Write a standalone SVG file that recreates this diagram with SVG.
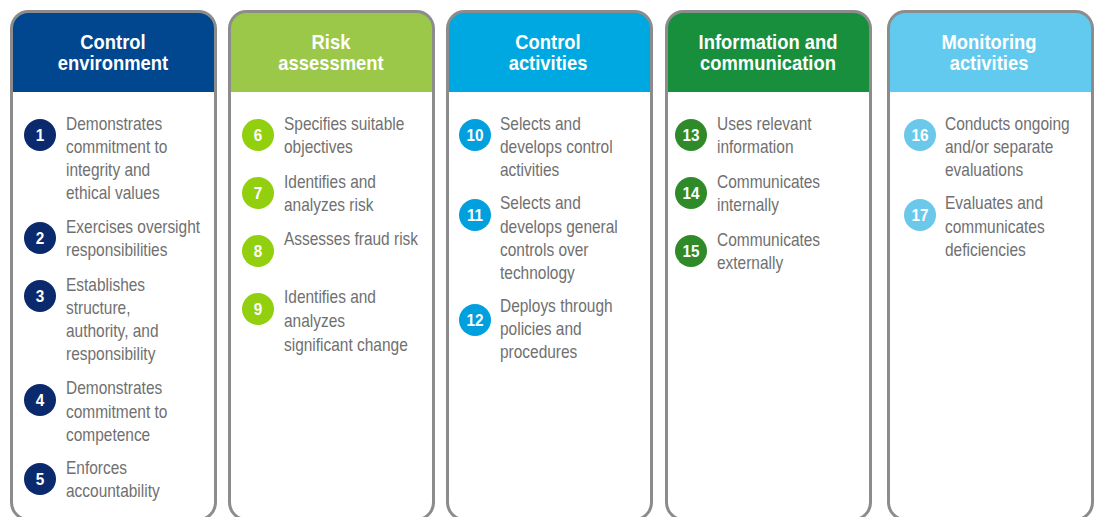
<svg xmlns="http://www.w3.org/2000/svg" width="1099" height="517" viewBox="0 0 1099 517">
<style>
.frame{fill:none;stroke:#8c8c8c;stroke-width:3}
.hd{font-family:"Liberation Sans",Arial,sans-serif;font-weight:bold;font-size:20px;fill:#ffffff;text-anchor:middle}
.tx{font-family:"Liberation Sans",Arial,sans-serif;font-size:18px;fill:#707070}
.num{font-family:"Liberation Sans",Arial,sans-serif;font-weight:bold;font-size:17px;fill:#ffffff;text-anchor:middle}
</style>
<rect width="1099" height="517" fill="#ffffff"/>
<g id="col1">
<path d="M11.5 92 V28 Q11.5 11.5 28 11.5 H199 Q215.5 11.5 215.5 28 V92 Z" fill="#00478f"/>
<rect class="frame" x="11.5" y="11.5" width="204" height="508" rx="17"/>
<text class="hd" transform="translate(113 0) scale(0.92 1)"><tspan x="0" y="49">Control</tspan><tspan x="0" y="70">environment</tspan></text>
<g fill="#0b2a6e">
<circle cx="40" cy="135" r="16"/><circle cx="40" cy="238" r="16"/><circle cx="40" cy="296" r="16"/><circle cx="40" cy="400" r="16"/><circle cx="40" cy="479" r="16"/>
</g>
<g class="num" transform="translate(40 0) scale(0.9 1)"><text x="0" y="141">1</text><text x="0" y="244">2</text><text x="0" y="302">3</text><text x="0" y="406">4</text><text x="0" y="485">5</text></g>
<g class="tx" transform="translate(66 0) scale(0.86 1)">
<text><tspan x="0" y="130">Demonstrates</tspan><tspan x="0" y="153">commitment to</tspan><tspan x="0" y="176">integrity and</tspan><tspan x="0" y="199">ethical values</tspan></text>
<text><tspan x="0" y="233">Exercises oversight</tspan><tspan x="0" y="256">responsibilities</tspan></text>
<text><tspan x="0" y="291">Establishes</tspan><tspan x="0" y="314">structure,</tspan><tspan x="0" y="337">authority, and</tspan><tspan x="0" y="360">responsibility</tspan></text>
<text><tspan x="0" y="394">Demonstrates</tspan><tspan x="0" y="418">commitment to</tspan><tspan x="0" y="441">competence</tspan></text>
<text><tspan x="0" y="474">Enforces</tspan><tspan x="0" y="497">accountability</tspan></text>
</g>
</g>
<g id="col2">
<path d="M229.5 92 V28 Q229.5 11.5 246 11.5 H417 Q433.5 11.5 433.5 28 V92 Z" fill="#9cc84a"/>
<rect class="frame" x="229.5" y="11.5" width="204" height="508" rx="17"/>
<text class="hd" transform="translate(331 0) scale(0.92 1)"><tspan x="0" y="49">Risk</tspan><tspan x="0" y="70">assessment</tspan></text>
<g fill="#92cf0f">
<circle cx="258" cy="135" r="16"/><circle cx="258" cy="193" r="16"/><circle cx="258" cy="251" r="16"/><circle cx="258" cy="309" r="16"/>
</g>
<g class="num" transform="translate(258 0) scale(0.9 1)"><text x="0" y="141">6</text><text x="0" y="199">7</text><text x="0" y="257">8</text><text x="0" y="315">9</text></g>
<g class="tx" transform="translate(284 0) scale(0.86 1)">
<text><tspan x="0" y="130">Specifies suitable</tspan><tspan x="0" y="153">objectives</tspan></text>
<text><tspan x="0" y="188">Identifies and</tspan><tspan x="0" y="211">analyzes risk</tspan></text>
<text><tspan x="0" y="245">Assesses fraud risk</tspan></text>
<text><tspan x="0" y="303">Identifies and</tspan><tspan x="0" y="327">analyzes</tspan><tspan x="0" y="351">significant change</tspan></text>
</g>
</g>
<g id="col3">
<path d="M447.5 92 V28 Q447.5 11.5 464 11.5 H635 Q651.5 11.5 651.5 28 V92 Z" fill="#00a8e1"/>
<rect class="frame" x="447.5" y="11.5" width="204" height="508" rx="17"/>
<text class="hd" transform="translate(548 0) scale(0.92 1)"><tspan x="0" y="49">Control</tspan><tspan x="0" y="70">activities</tspan></text>
<g fill="#00a0de">
<circle cx="475" cy="135" r="16"/><circle cx="475" cy="215" r="16"/><circle cx="475" cy="320" r="16"/>
</g>
<g class="num" transform="translate(475 0) scale(0.9 1)"><text x="0" y="141">10</text><text x="0" y="221">11</text><text x="0" y="326">12</text></g>
<g class="tx" transform="translate(500 0) scale(0.86 1)">
<text><tspan x="0" y="130">Selects and</tspan><tspan x="0" y="153">develops control</tspan><tspan x="0" y="176">activities</tspan></text>
<text><tspan x="0" y="209">Selects and</tspan><tspan x="0" y="233">develops general</tspan><tspan x="0" y="256">controls over</tspan><tspan x="0" y="279">technology</tspan></text>
<text><tspan x="0" y="312">Deploys through</tspan><tspan x="0" y="335">policies and</tspan><tspan x="0" y="358">procedures</tspan></text>
</g>
</g>
<g id="col4">
<path d="M666.5 92 V28 Q666.5 11.5 683 11.5 H854 Q870.5 11.5 870.5 28 V92 Z" fill="#178f3d"/>
<rect class="frame" x="666.5" y="11.5" width="204" height="508" rx="17"/>
<text class="hd" transform="translate(768 0) scale(0.92 1)"><tspan x="0" y="49">Information and</tspan><tspan x="0" y="70">communication</tspan></text>
<g fill="#2f8a2a">
<circle cx="691" cy="135" r="16"/><circle cx="691" cy="193" r="16"/><circle cx="691" cy="251" r="16"/>
</g>
<g class="num" transform="translate(691 0) scale(0.9 1)"><text x="0" y="141">13</text><text x="0" y="199">14</text><text x="0" y="257">15</text></g>
<g class="tx" transform="translate(717 0) scale(0.86 1)">
<text><tspan x="0" y="130">Uses relevant</tspan><tspan x="0" y="153">information</tspan></text>
<text><tspan x="0" y="188">Communicates</tspan><tspan x="0" y="211">internally</tspan></text>
<text><tspan x="0" y="246">Communicates</tspan><tspan x="0" y="269">externally</tspan></text>
</g>
</g>
<g id="col5">
<path d="M888.5 92 V28 Q888.5 11.5 905 11.5 H1076 Q1092.5 11.5 1092.5 28 V92 Z" fill="#63caef"/>
<rect class="frame" x="888.5" y="11.5" width="204" height="508" rx="17"/>
<text class="hd" transform="translate(989 0) scale(0.92 1)"><tspan x="0" y="49">Monitoring</tspan><tspan x="0" y="70">activities</tspan></text>
<g fill="#6cc8ea">
<circle cx="920" cy="135" r="16"/><circle cx="920" cy="215" r="16"/>
</g>
<g class="num" transform="translate(920 0) scale(0.9 1)"><text x="0" y="141">16</text><text x="0" y="221">17</text></g>
<g class="tx" transform="translate(945 0) scale(0.86 1)">
<text><tspan x="0" y="130">Conducts ongoing</tspan><tspan x="0" y="153">and/or separate</tspan><tspan x="0" y="176">evaluations</tspan></text>
<text><tspan x="0" y="209">Evaluates and</tspan><tspan x="0" y="233">communicates</tspan><tspan x="0" y="256">deficiencies</tspan></text>
</g>
</g>
</svg>
